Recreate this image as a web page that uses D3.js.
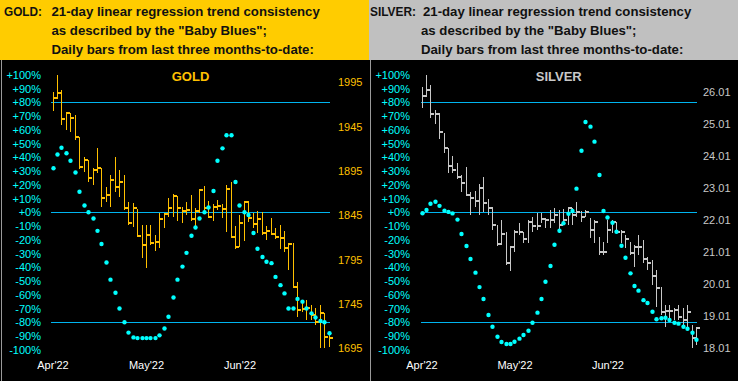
<!DOCTYPE html>
<html>
<head>
<meta charset="utf-8">
<script src="https://cdn.jsdelivr.net/npm/d3@7"></script>
<style>
body { margin: 0; background: #000; }
svg { display: block; font-family: "Liberation Sans", Arial, sans-serif; }
</style>
</head>
<body>
<script>
// daily bars, three months to date (63 sessions)
var goldHigh = [1984,2003,1986,1962,1960,1958,1933,1911,1907,1898,1921,1898,1877,1890,1911,1896,1890,1860,1859,1852,
  1834,1834,1834,1823,1848,1848,1865,1869,1867,1854,1860,1868,1853,1874,1878,1861,1858,1862,1858,1879,
  1883,1833,1845,1861,1861,1848,1850,1849,1833,1842,1831,1834,1827,1814,1814,1770,1750,1750,1744,1740,
  1744,1735,1712];
var goldLow = [1963,1976,1947,1941,1939,1930,1897,1894,1883,1879,1893,1854,1860,1854,1871,1866,1851,1834,1832,1821,
  1797,1786,1812,1805,1808,1831,1843,1843,1839,1836,1845,1839,1832,1848,1850,1842,1839,1851,1842,1826,
  1819,1807,1809,1816,1837,1831,1825,1823,1817,1823,1818,1807,1804,1783,1763,1730,1736,1727,1727,1721,
  1695,1695,1697];
var goldClose = [1977,1983,1954,1960,1955,1933,1900,1907,1887,1896,1898,1865,1868,1885,1877,1883,1853,1836,1853,1822,
  1812,1823,1814,1815,1841,1847,1853,1867,1853,1850,1851,1841,1850,1874,1853,1843,1854,1856,1852,1875,
  1821,1809,1836,1860,1842,1835,1841,1825,1827,1824,1821,1819,1808,1813,1764,1738,1739,1740,1733,1725,
  1735,1708,1707];
// "Baby Blues": trend consistency in percent
var goldBlues = [32,42,47,43,37.5,29,15,5,0,-4.5,-13.5,-23,-36.5,-49,-58.5,-70,-80,-87.5,-91,-91.5,
  -91.5,-91.5,-91.5,-91.5,-89.5,-84.5,-76,-62,-49,-39.5,-29.5,-17,-11,-4.5,0,3.5,15.5,37.5,46.5,56,
  56,22,5,0,-2,-15,-26.5,-32.5,-36,-37,-47,-53,-59,-70,-70,-63,-65,-70,-73.5,-76.5,
  -79,-80,-88];

var silverHigh = [26.17,26.53,26.22,25.44,25.36,24.73,24.25,24.01,23.78,23.41,23.67,22.89,22.91,23.13,23.34,22.66,22.43,21.85,22.01,21.65,
  21.18,21.70,21.91,21.65,22.01,22.11,22.22,22.22,22.06,22.32,22.38,22.32,22.35,22.39,22.39,22.58,22.29,22.32,22.07,22.01,
  21.48,21.32,22.01,22.01,21.95,21.70,21.54,21.32,21.23,21.54,21.39,20.86,20.76,20.45,19.92,19.36,19.36,19.27,19.36,19.27,
  19.36,18.74,18.67];
var silverLow = [25.51,25.85,25.20,25.00,24.53,24.11,23.47,23.49,23.29,22.89,22.76,22.17,22.43,22.17,22.27,22.17,21.70,21.20,21.23,20.61,
  20.43,21.02,21.54,21.28,21.30,21.65,21.70,21.91,21.75,21.76,21.92,21.61,21.95,21.85,21.85,22.11,21.95,22.10,21.45,21.29,
  20.92,20.92,21.29,21.61,21.61,21.29,21.14,20.92,20.55,20.92,20.67,20.45,19.98,19.30,19.05,18.67,18.83,18.89,18.89,18.74,
  18.64,18.02,18.11];
var silverClose = [25.89,26.07,25.31,25.31,24.76,24.25,23.69,23.57,23.34,23.17,22.79,22.71,22.61,23.02,22.55,22.39,21.85,21.25,21.57,20.66,
  21.16,21.65,21.65,21.42,21.96,21.83,21.83,22.03,22.01,22.01,22.17,21.85,22.01,22.38,22.17,22.26,22.10,22.26,21.70,21.95,
  21.01,21.01,21.70,21.95,21.64,21.64,21.42,20.98,21.17,21.17,20.79,20.67,20.26,19.89,19.14,19.17,19.17,19.20,18.99,18.89,
  19.14,18.33,18.64];
var silverBlues = [-0.7,1.7,6.2,7.7,4.7,1.2,0.3,-0.8,-5.3,-15.8,-24.5,-34,-43.9,-54.4,-63.1,-74.7,-83.2,-90.5,-94.3,-95.8,
  -95.8,-94.1,-91.9,-89.2,-86.1,-80.3,-73,-63.1,-50.5,-39.1,-23.6,-13.4,-8,-1,1,17.2,44.8,65.7,62.3,51.4,
  27.1,0.9,-3.8,-7.6,-14.1,-24.3,-33,-44.4,-53.6,-57,-63.9,-66,-72.3,-77.8,-77.1,-76.7,-78.3,-80.3,-81,-83.2,
  -84.7,-87.6,-92.7];

var pctTicks = d3.range(100, -101, -10);
var levelLines = [80, 0, -80];
var goldTicks = [1695, 1745, 1795, 1845, 1895, 1945, 1995];
var silverTicks = [18.01, 19.01, 20.01, 21.01, 22.01, 23.01, 24.01, 25.01, 26.01];
var monthLabels = ["Apr'22", "May'22", "Jun'22"];
var monthIndex = [0, 21, 42];

var headerLines = ["21-day linear regression trend consistency",
  "as described by the \"Baby Blues\";",
  "Daily bars from last three months-to-date:"];

var W = 738, H = 381;
var svg = d3.select('body').append('svg').attr('width', W).attr('height', H);
svg.append('rect').attr('width', W).attr('height', H).attr('fill', '#000');

var yPct = d3.scaleLinear().domain([-100, 100]).range([349.8, 74.8]);

function drawPanel(p) {
  var g = svg.append('g');

  // header
  g.append('rect').attr('x', p.left).attr('y', 0).attr('width', p.width).attr('height', 60)
    .attr('fill', p.headerFill);
  g.append('text').attr('x', p.nameX).attr('y', 15.5).text(p.name + ':')
    .attr('textLength', p.nameW).attr('lengthAdjust', 'spacingAndGlyphs')
    .attr('font-size', 13.2).attr('font-weight', 'bold').attr('fill', '#111');
  headerLines.forEach(function(t, i) {
    g.append('text').attr('x', i === 0 ? p.line1X : p.textX).attr('y', [15.5, 34.5, 54][i]).text(t)
      .attr('font-size', 13.2).attr('font-weight', 'bold').attr('fill', '#111');
  });

  // panel edge
  g.append('line').attr('x1', p.left + 1.5).attr('x2', p.left + 1.5).attr('y1', 60).attr('y2', H)
    .attr('stroke', '#9a9a9a').attr('stroke-width', 1);

  var x = d3.scaleLinear().domain([0, p.close.length - 1]).range(p.xRange);
  var yP = d3.scaleLinear().domain(p.priceDomain).range(p.priceRange);

  // +80 / 0 / -80 lines
  g.selectAll('.lvl').data(levelLines).enter().append('line')
    .attr('x1', p.lineX[0]).attr('x2', p.lineX[1])
    .attr('y1', function(d) { return Math.round(yPct(d)) + 0.5; })
    .attr('y2', function(d) { return Math.round(yPct(d)) + 0.5; })
    .attr('stroke', '#00b4ee').attr('stroke-width', 1);

  // left axis (percent)
  var la = g.append('g').attr('transform', 'translate(' + (p.left + 41) + ',0)')
    .call(d3.axisLeft(yPct).tickValues(pctTicks).tickSize(0).tickPadding(0)
      .tickFormat(function(d) { return (d >= 0 ? '+' : '') + d + '%'; }));
  la.select('.domain').remove();
  la.attr('font-family', null).attr('font-size', null);
  la.selectAll('text').attr('fill', '#00ffff').attr('font-size', 11);

  // right axis (price)
  var ra = g.append('g').attr('transform', 'translate(' + p.priceX + ',0)')
    .call(d3.axisRight(yP).tickValues(p.ticks).tickSize(0).tickPadding(0)
      .tickFormat(p.fmt));
  ra.select('.domain').remove();
  ra.attr('font-family', null).attr('font-size', null);
  ra.selectAll('text').attr('fill', p.color).attr('font-size', 11);

  // month axis
  var ba = g.append('g').attr('transform', 'translate(0,361.5)')
    .call(d3.axisBottom(x).tickValues(monthIndex).tickSize(0).tickPadding(0)
      .tickFormat(function(d, i) { return monthLabels[i]; }));
  ba.select('.domain').remove();
  ba.attr('font-family', null).attr('font-size', null);
  ba.selectAll('text').attr('fill', '#fff').attr('font-size', 11);

  // title
  g.append('text').attr('x', (p.xRange[0] + p.xRange[1]) / 2).attr('y', 81)
    .attr('text-anchor', 'middle').attr('font-size', 13).attr('font-weight', 'bold')
    .attr('fill', p.color).text(p.name);

  // HLC bars
  var bars = g.append('g').attr('shape-rendering', 'crispEdges');
  p.close.forEach(function(c, i) {
    var xi = Math.round(x(i));
    bars.append('rect').attr('x', xi).attr('width', 1)
      .attr('y', yP(p.high[i])).attr('height', Math.max(1, yP(p.low[i]) - yP(p.high[i])))
      .attr('fill', p.color);
    bars.append('rect').attr('x', xi).attr('width', 4)
      .attr('y', Math.round(yP(c)) - 1).attr('height', 2)
      .attr('fill', p.color);
  });

  // baby blues
  g.selectAll('.blue').data(p.blues).enter().append('circle')
    .attr('cx', function(d, i) { return Math.round(x(i)) + 0.5; })
    .attr('cy', function(d) { return yPct(d); })
    .attr('r', 2.2).attr('fill', '#00ffff');
}

drawPanel({
  name: 'GOLD', left: 0, width: 369, headerFill: '#ffcc00', nameX: 4, nameW: 38, line1X: 51.5, textX: 51.5,
  color: '#ffc000', high: goldHigh, low: goldLow, close: goldClose, blues: goldBlues,
  xRange: [52.5, 328.5], lineX: [51, 330],
  priceDomain: [1695, 1995], priceRange: [348.3, 82.3], priceX: 338, ticks: goldTicks,
  fmt: d3.format('d')
});
drawPanel({
  name: 'SILVER', left: 369, width: 369, headerFill: '#c0c0c0', nameX: 370, nameW: 46, line1X: 423, textX: 421,
  color: '#c8c8c8', high: silverHigh, low: silverLow, close: silverClose, blues: silverBlues,
  xRange: [421.5, 696], lineX: [421, 697],
  priceDomain: [18.01, 26.01], priceRange: [348.3, 91.7], priceX: 703, ticks: silverTicks,
  fmt: d3.format('.2f')
});
</script>
</body>
</html>
